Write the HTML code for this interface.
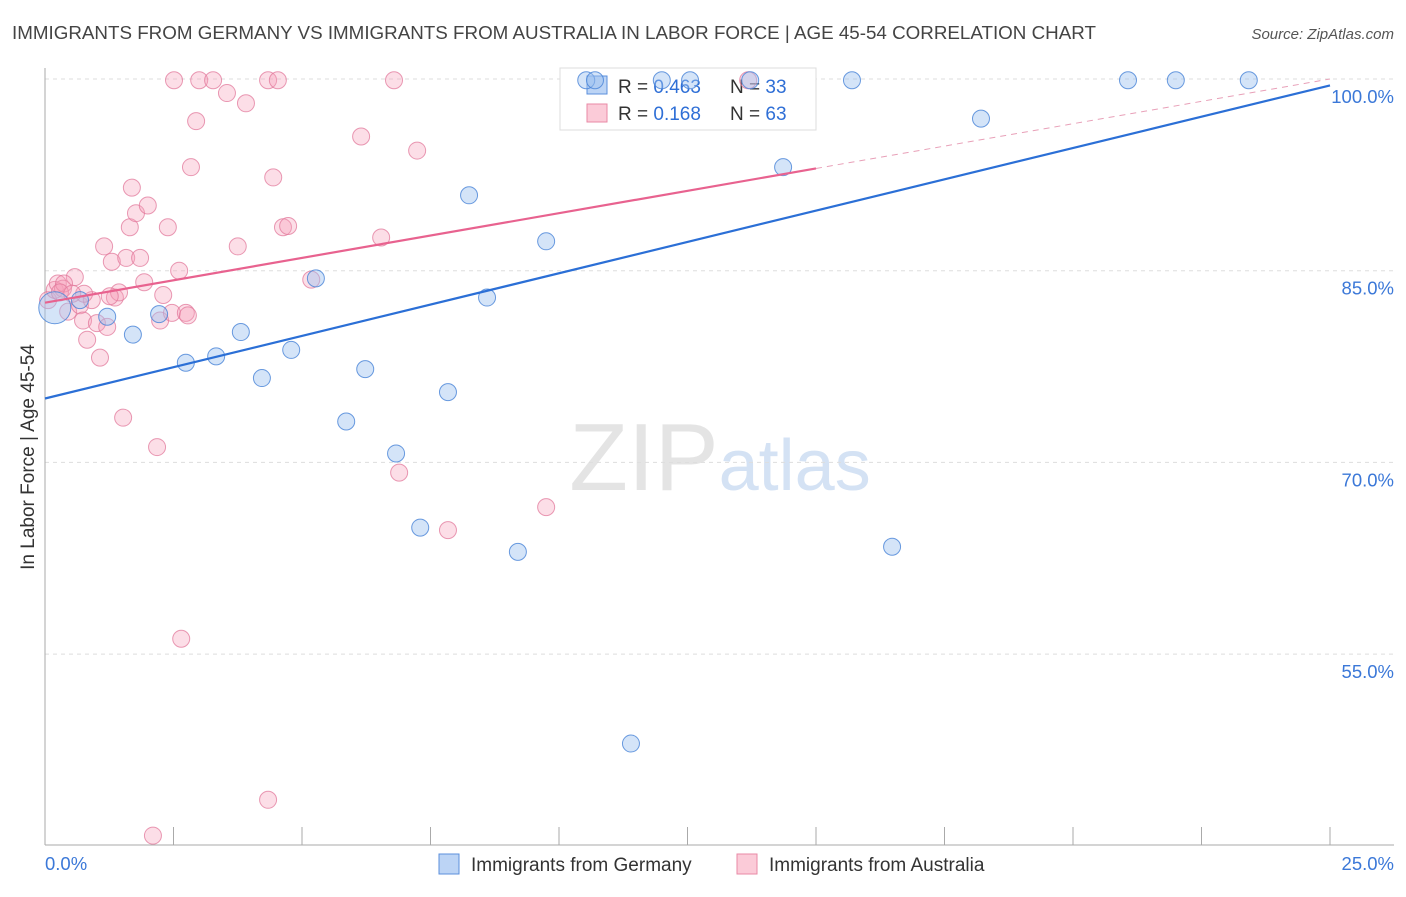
<!DOCTYPE html>
<html><head><meta charset="utf-8">
<style>
body{margin:0;background:#fff;font-family:"Liberation Sans",sans-serif;}
svg text{font-family:"Liberation Sans",sans-serif;}
</style></head>
<body>
<svg id="chart" width="1406" height="892" viewBox="0 0 1406 892" xmlns="http://www.w3.org/2000/svg">
<text x="12" y="39" font-size="18.8" fill="#444">IMMIGRANTS FROM GERMANY VS IMMIGRANTS FROM AUSTRALIA IN LABOR FORCE | AGE 45-54 CORRELATION CHART</text>
<text x="1394" y="39" font-size="15" fill="#555" text-anchor="end" font-style="italic">Source: ZipAtlas.com</text>
<text x="720" y="490" font-size="96" text-anchor="middle" fill="#e4e4e4" font-family="Liberation Serif">ZIP<tspan fill="#d4e2f4" font-family="Liberation Sans" font-size="72">atlas</tspan></text>
<g id="grid"></g>
<g id="axes"></g>
<g>
<rect x="560" y="68" width="256" height="62" fill="#fff" stroke="#ddd"/>
<rect x="587" y="76" width="20" height="18" fill="#bcd4f5" stroke="#5b8fdc"/>
<rect x="587" y="104" width="20" height="18" fill="#fbcbd8" stroke="#e889a6"/>
<text x="618" y="93" font-size="19" fill="#333">R = <tspan fill="#2f6fd6">0.463</tspan></text>
<text x="730" y="93" font-size="19" fill="#333">N = <tspan fill="#2f6fd6">33</tspan></text>
<text x="618" y="120" font-size="19" fill="#333">R = <tspan fill="#2f6fd6"> 0.168</tspan></text>
<text x="730" y="120" font-size="19" fill="#333">N = <tspan fill="#2f6fd6">63</tspan></text>
</g>
<g id="marks"></g>
<g>
<rect x="439" y="854" width="20" height="20" fill="#bcd4f5" stroke="#5b8fdc"/>
<text x="471" y="871" font-size="19" fill="#333">Immigrants from Germany</text>
<rect x="737" y="854" width="20" height="20" fill="#fbcbd8" stroke="#e889a6"/>
<text x="769" y="871" font-size="19" fill="#333">Immigrants from Australia</text>
</g>
<text transform="translate(34,457) rotate(-90)" font-size="19" fill="#333" text-anchor="middle">In Labor Force | Age 45-54</text>
<text x="45" y="870" font-size="18.5" fill="#3b78d8">0.0%</text>
<text x="1394" y="870" font-size="18.5" fill="#3b78d8" text-anchor="end">25.0%</text>
</svg>
<script>
const germanyX=[0.19,0.68,1.21,1.71,2.22,2.74,3.33,3.81,4.22,4.79,5.27,5.86,6.23,6.83,7.30,7.84,8.25,8.60,9.20,9.75,10.53,10.70,11.40,12.00,12.55,13.72,14.36,15.70,16.48,18.21,21.07,22.00,23.42];
const germanyY=[82.1,82.7,81.4,80.0,81.6,77.8,78.3,80.2,76.6,78.8,84.4,73.2,77.3,70.7,64.9,75.5,90.9,82.9,63.0,87.3,99.9,99.9,48.0,99.9,99.9,99.9,93.1,99.9,63.4,96.9,99.9,99.9,99.9];
const australiaX=[0.06,0.19,0.25,0.35,0.45,0.58,0.68,0.74,0.82,0.91,1.01,1.07,1.15,1.21,1.30,1.36,1.44,1.52,1.58,1.65,1.69,1.77,1.85,1.93,2.00,2.10,2.18,2.24,2.30,2.39,2.47,2.51,2.61,2.65,2.74,2.78,2.84,2.94,3.00,3.27,3.54,3.75,3.91,4.34,4.34,4.44,4.53,4.63,4.73,5.18,6.15,6.54,6.79,6.89,7.24,7.84,9.75,13.68,0.76,0.37,1.26,0.29,0.53];
const australiaY=[82.7,83.5,84.0,83.6,81.8,84.5,82.3,81.1,79.6,82.7,80.9,78.2,86.9,80.6,85.7,82.9,83.3,73.5,86.0,88.4,91.5,89.5,86.0,84.1,90.1,40.8,71.2,81.1,83.1,88.4,81.7,99.9,85.0,56.2,81.7,81.5,93.1,96.7,99.9,99.9,98.9,86.9,98.1,99.9,43.6,92.3,99.9,88.4,88.5,84.3,95.5,87.6,99.9,69.2,94.4,64.7,66.5,99.9,83.2,84.0,83.0,83.3,83.2];
const yTicks=[100,85,70,55];
const yTickLabels=["100.0%","85.0%","70.0%","55.0%"];
const xTicks=[0,2.5,5,7.5,10,12.5,15,17.5,20,22.5,25];
const germanyTrend=[75.0,99.5];
const australiaTrend=[82.5,100.0];
const australiaSolidEnd=15;

const NS="http://www.w3.org/2000/svg";
const sx=v=>45+v*51.4;
const sy=v=>79+(100-v)*12.78;
function mk(tag,attrs,parent){const e=document.createElementNS(NS,tag);for(const k in attrs)e.setAttribute(k,attrs[k]);document.getElementById(parent).appendChild(e);return e;}

yTicks.forEach((t,i)=>{
  const g=mk('line',{x1:45,x2:1394,y1:sy(t),y2:sy(t),stroke:'#ddd','stroke-dasharray':'4,4'},'grid');
  
  
  const tx=mk('text',{x:1394,y:sy(t)+24,'font-size':18.5,fill:'#3b78d8','text-anchor':'end'},'axes');
  tx.textContent=yTickLabels[i];
  
  
});
const ya=mk('line',{x1:45,x2:45,y1:68,y2:845,stroke:'#aaa'},'axes');


const xa=mk('line',{x1:45,x2:1394,y1:845,y2:845,stroke:'#aaa'},'axes');


xTicks.forEach(t=>{
  const l=mk('line',{x1:sx(t),x2:sx(t),y1:827,y2:845,stroke:'#aaa'},'axes');
  
  
});

australiaX.forEach((x,i)=>{
  const c=mk('circle',{cx:sx(x),cy:sy(australiaY[i]),r:8.5,fill:'rgba(245,160,185,0.35)',stroke:'rgba(225,120,155,0.75)','stroke-width':1},'marks');
  
  
});
germanyX.forEach((x,i)=>{
  const c=mk('circle',{cx:sx(x),cy:sy(germanyY[i]),r:i===0?16:8.5,fill:'rgba(160,195,240,0.45)',stroke:'rgba(70,130,215,0.8)','stroke-width':1},'marks');
  
  
});
const gl=mk('line',{x1:sx(0),y1:sy(germanyTrend[0]),x2:sx(25),y2:sy(germanyTrend[1]),stroke:'#2b6fd6','stroke-width':2.2},'marks');


const aMid=australiaTrend[0]+(australiaTrend[1]-australiaTrend[0])*australiaSolidEnd/25;
const al=mk('line',{x1:sx(0),y1:sy(australiaTrend[0]),x2:sx(australiaSolidEnd),y2:sy(aMid),stroke:'#e8628f','stroke-width':2.2},'marks');


const ad=mk('line',{x1:sx(australiaSolidEnd),y1:sy(aMid),x2:sx(25),y2:sy(australiaTrend[1]),stroke:'#e8a0b8','stroke-width':1,'stroke-dasharray':'6,5'},'marks');


</script>
</body></html>
